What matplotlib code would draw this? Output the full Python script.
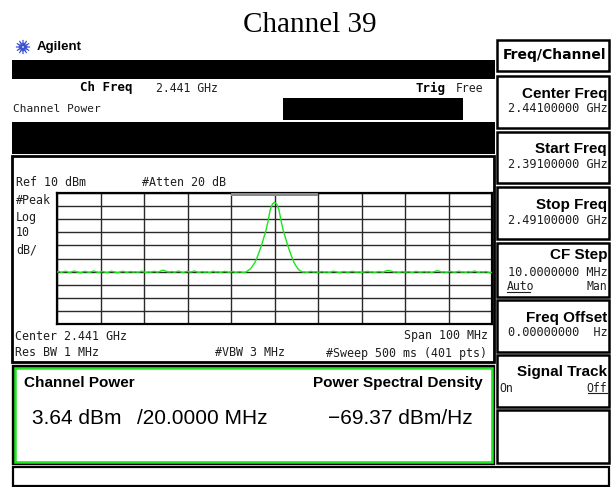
import matplotlib
matplotlib.use("Agg")
import matplotlib.pyplot as plt
import numpy as np
from matplotlib.patches import Rectangle

# ---------------- data ----------------
title = "Channel 39"
center_ghz = 2.441
span_mhz = 100
ref_dbm = 10
db_per_div = 10
n_div = 10
chan_bw_mhz = 20
step_mhz = 0.5

left_noise = [
    -50.4, -49.9, -50.6, -50.1, -49.7, -50.3, -50.8, -50.0, -49.6, -50.2,
    -50.5, -50.9, -50.1, -49.8, -50.3, -50.6, -50.0, -49.5, -50.2, -50.7,
    -50.3, -49.9, -50.4, -50.8, -50.2, -49.7, -50.1, -50.5, -50.9, -50.3,
    -49.8, -50.0, -50.6, -50.2, -49.9, -50.4, -50.1, -50.5, -50.2, -49.6,
    -50.3, -50.7, -50.2, -50.5, -50.0, -49.8, -50.4, -50.1, -49.2, -49.0,
    -49.6, -50.3, -50.2, -49.9, -50.5, -50.0, -49.6, -50.3, -50.7, -50.1,
    -49.8, -50.4, -50.2, -49.5, -50.0, -50.6, -50.3, -49.9, -50.5, -50.1,
    -50.8, -50.2, -49.7, -50.4, -50.0, -50.6, -50.3, -49.8, -50.1, -50.5,
    -50.2, -49.9, -50.6, -50.3, -50.0, -50.4, -50.7,
]
peak = [
    -50.2, -49.0, -47.8, -45.5, -43.0, -39.2, -34.8, -30.0, -24.5, -19.0,
    -11.8, -3.0, 1.5, 3.0, 1.6, -2.6, -11.0, -18.5, -24.0, -29.5,
    -34.5, -39.0, -43.2, -46.0, -48.3, -49.6, -50.3,
]
right_noise = [
    -50.3, -50.6, -50.1, -49.8, -50.4, -50.0, -50.7, -50.2, -49.9, -50.5,
    -50.1, -50.6, -50.3, -49.7, -50.0, -50.4, -50.8, -50.2, -49.9, -50.3,
    -50.5, -50.0, -49.8, -50.3, -50.4, -50.2, -50.6, -50.3, -50.0, -49.8,
    -50.4, -50.1, -50.7, -50.3, -49.9, -50.2, -50.5, -49.6, -49.1, -49.4,
    -49.8, -50.4, -50.1, -50.6, -50.3, -49.9, -50.5, -50.2, -50.0, -50.7,
    -50.3, -49.8, -50.1, -50.5, -50.2, -49.9, -50.4, -50.0, -50.6, -50.3,
    -49.7, -49.3, -49.9, -50.4, -50.1, -50.6, -50.2, -49.8, -50.3, -50.5,
    -50.0, -49.7, -50.4, -50.2, -50.6, -49.9, -50.3, -50.1, -49.5, -50.2,
    -50.6, -50.0, -50.4, -49.9, -50.3, -51.0, -50.5,
]
levels = left_noise + peak + right_noise
offsets_mhz = np.arange(len(levels)) * step_mhz - span_mhz / 2

channel_power = "3.64"
integ_bw = "20.0000"
psd_value = "\u221269.37"

softkey_labels = ["Center Freq", "Start Freq", "Stop Freq", "CF Step",
                  "Freq Offset", "Signal Track"]
softkey_values = ["2.44100000 GHz", "2.39100000 GHz", "2.49100000 GHz",
                  "10.0000000 MHz", "0.00000000  Hz", ""]

# ---------------- figure ----------------
W, H = 615, 487
fig = plt.figure(figsize=(W / 100, H / 100), dpi=100)
fig.patch.set_facecolor("white")
bg = fig.add_axes([0, 0, 1, 1])
bg.set_xlim(0, W)
bg.set_ylim(H, 0)
bg.axis("off")

MONO = "DejaVu Sans Mono"
SANS = "Liberation Sans"
TXT = "#1e1e1e"


def box(x0, y0, x1, y1, fc="none", ec="black", lw=1.6, z=1):
    bg.add_patch(Rectangle((x0, y0), x1 - x0, y1 - y0, fc=fc, ec=ec, lw=lw, zorder=z))


def t(x, y, s, ha="left", fam=MONO, size=8.4, weight="normal", color=TXT, **kw):
    bg.text(x, y, s, ha=ha, va="center", family=fam, fontsize=size,
            fontweight=weight, color=color, **kw)


# title
bg.text(310, 32, title, ha="center", va="baseline", family="Liberation Serif",
        fontsize=21, color="black")

# Agilent logo
cx, cy = 23, 47
for ang in np.linspace(0, 2 * np.pi, 12, endpoint=False):
    rr = np.array([2.0, 3.5, 5.0, 6.5])
    bg.scatter(cx + rr * np.cos(ang), cy + rr * np.sin(ang), s=[2.5, 2, 1.5, 1],
               color="#3a4fd0", lw=0, zorder=3)
t(37, 47, "Agilent", fam=SANS, size=9.5, weight="bold", color="black")

# header bars
box(12, 60, 495, 79, fc="black", lw=0)
t(80, 88, "Ch Freq", size=9, weight="bold", color="black")
t(156, 88, "2.441 GHz", size=8.3)
t(416, 88, "Trig", size=9, weight="bold", color="black")
t(483, 88, "Free", ha="right", size=8.3)
t(13, 109, "Channel Power", size=8)
box(283, 98, 463, 120, fc="black", lw=0)
box(12, 122, 495, 154, fc="black", lw=0)

# grid panel
box(12, 156, 494, 362, lw=2.0)
t(16, 183, "Ref 10 dBm")
t(142, 183, "#Atten 20 dB")
t(16, 200, "#Peak")
t(16, 217, "Log")
t(16, 233, "10")
t(16, 250, "dB/")
t(15, 336, "Center 2.441 GHz")
t(488, 336, "Span 100 MHz", ha="right")
t(15, 353, "Res BW 1 MHz")
t(215, 353, "#VBW 3 MHz")
t(487, 353, "#Sweep 500 ms (401 pts)", ha="right")

# channel power box
box(13, 366, 493, 463, lw=2.4, ec="black")
box(14.5, 367.5, 491.5, 461.5, lw=1.8, ec="#22e622", z=2)
t(24, 383, "Channel Power", fam=SANS, size=11, weight="bold", color="black")
t(483, 383, "Power Spectral Density", ha="right", fam=SANS, size=11,
  weight="bold", color="black")
t(32, 418, channel_power + " dBm", fam=SANS, size=15, color="black")
t(137, 418, "/" + integ_bw + " MHz", fam=SANS, size=15, color="black")
t(473, 418, psd_value + " dBm/Hz", ha="right", fam=SANS, size=15, color="black")

# bottom status box
box(13, 467, 609, 486, lw=1.6)

# softkeys
box(497, 40, 609, 71, lw=1.8)
t(606, 55, "Freq/Channel", ha="right", fam="DejaVu Sans", size=10,
  weight="bold", color="black")
keys = [(76, 128), (132, 183), (187, 239), (243, 297), (300, 352), (355, 407), (410, 463)]
for (y0, y1) in keys:
    box(497, y0, 609, y1, lw=1.8)
for i, (y0, y1) in enumerate(keys[:6]):
    lab, val = softkey_labels[i], softkey_values[i]
    if lab == "CF Step":
        t(607, y1 - 42, lab, ha="right", fam=SANS, size=11, weight="bold", color="black")
        t(608, y1 - 25, val, ha="right", size=8.6)
        t(507, y1 - 10, "Auto", size=8.3)
        bg.plot([507, 530], [y1 - 5, y1 - 5], color=TXT, lw=0.8)
        t(607, y1 - 10, "Man", ha="right", size=8.3)
    elif lab == "Signal Track":
        t(607, y1 - 35, lab, ha="right", fam=SANS, size=11, weight="bold", color="black")
        t(499, y1 - 19, "On", size=8.3)
        t(607, y1 - 19, "Off", ha="right", size=8.3)
        bg.plot([588, 607], [y1 - 14, y1 - 14], color=TXT, lw=0.8)
    else:
        t(607, y1 - 34, lab, ha="right", fam=SANS, size=11, weight="bold", color="black")
        t(608, y1 - 19, val, ha="right", size=8.6)

# ---------------- spectrum plot ----------------
gx0, gx1, gy0, gy1 = 57, 492, 193, 324
ax = fig.add_axes([gx0 / W, 1 - gy1 / H, (gx1 - gx0) / W, (gy1 - gy0) / H])
ax.set_xlim(-span_mhz / 2, span_mhz / 2)
ax.set_ylim(ref_dbm - n_div * db_per_div, ref_dbm)
ax.set_xticks(np.linspace(-span_mhz / 2, span_mhz / 2, n_div + 1))
ax.set_yticks(np.linspace(ref_dbm - n_div * db_per_div, ref_dbm, n_div + 1))
ax.grid(True, color="#2a2a2a", lw=1.0)
ax.tick_params(length=0, labelbottom=False, labelleft=False)
for sp in ax.spines.values():
    sp.set_color("black")
    sp.set_linewidth(1.6)
ax.set_facecolor("white")
ax.add_patch(Rectangle((-chan_bw_mhz / 2, ref_dbm - 2.4), chan_bw_mhz, 2.4,
                       fc="#8a8a8a", ec="none", zorder=3))
ax.plot(offsets_mhz, levels, color="#19e619", lw=1.0, zorder=4)

fig.savefig("out.png", dpi=100, facecolor="white")
